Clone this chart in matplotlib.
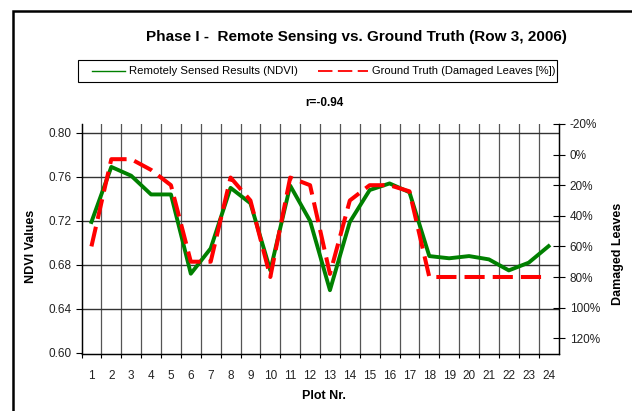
import matplotlib.pyplot as plt
from matplotlib.lines import Line2D
from matplotlib.patches import Rectangle
from matplotlib.ticker import FuncFormatter

plt.rcParams['font.family'] = ['Liberation Sans', 'DejaVu Sans']

plots = list(range(1, 25))
ndvi = [0.719, 0.769, 0.761, 0.744, 0.744, 0.672, 0.695, 0.750, 0.736, 0.675,
        0.752, 0.720, 0.657, 0.719, 0.748, 0.754, 0.746, 0.688, 0.686, 0.688,
        0.685, 0.675, 0.682, 0.697]
damaged = [60, 3, 3, 10, 20, 70, 70, 15, 30, 80,
           15, 20, 78, 30, 20, 20, 24, 80, 80, 80,
           80, 80, 80, 80]

W, H = 632, 411
fig = plt.figure(figsize=(W / 100, H / 100), dpi=100)
ax = fig.add_axes([81.5 / W, 1 - 353.5 / H, 477 / W, 229.5 / H])
ax2 = ax.twinx()

green = '#008000'
red = '#ff0000'

# gridlines between the plots
for b in range(1, 24):
    ax.axvline(b + 0.5, color='#555555', lw=0.9, zorder=1)
for v in [0.64, 0.68, 0.72, 0.76, 0.80]:
    ax.axhline(v, color='#333333', lw=1.0, zorder=1)

ax.plot(plots, ndvi, color=green, lw=2.8, zorder=3)
ax2.plot(plots, damaged, color=red, lw=2.9, dashes=(5, 2), zorder=4)

ax.set_xlim(0.5, 24.5)
ax.set_ylim(0.5995, 0.808)
ax.set_yticks([0.60, 0.64, 0.68, 0.72, 0.76, 0.80])
ax.yaxis.set_major_formatter(FuncFormatter(lambda v, p: f'{v:.2f}'))
ax.set_xticks(plots)
ax.set_xticks([b + 0.5 for b in range(0, 24)], minor=True)
ax.tick_params(axis='x', which='major', length=0, pad=12, labelsize=8.5, labelcolor='#222222')
ax.tick_params(axis='x', which='minor', length=3, direction='out', width=0.8)
ax.tick_params(axis='y', length=4, direction='out', width=0.8, pad=3,
               labelsize=8.5, labelcolor='#222222')

ax2.set_ylim(130, -20)
ax2.set_yticks([-20, 0, 20, 40, 60, 80, 100, 120])
ax2.yaxis.set_major_formatter(FuncFormatter(lambda v, p: f'{v:.0f}%'))
ax2.tick_params(axis='y', length=8, direction='inout', width=0.8, pad=4,
                labelsize=8.5, labelcolor='#222222')

for a in (ax, ax2):
    a.spines['top'].set_visible(False)
    for s in ('left', 'right', 'bottom'):
        a.spines[s].set_linewidth(0.9)

ax.set_xlabel('Plot Nr.', fontsize=9, fontweight='bold')
ax.xaxis.set_label_coords(0.508, -0.159)
ax.set_ylabel('NDVI Values', fontsize=9, fontweight='bold')
ax.yaxis.set_label_coords(-0.094, 0.465)
ax2.set_ylabel('Damaged Leaves', fontsize=9, fontweight='bold')
ax2.yaxis.set_label_coords(1.112, 0.434)

fig.text(356 / W, 1 - 37 / H, 'Phase I -  Remote Sensing vs. Ground Truth (Row 3, 2006)',
         ha='center', va='center', fontsize=11, fontweight='bold')
fig.text(324 / W, 1 - 103 / H, 'r=-0.94', ha='center', va='center',
         fontsize=8.5, fontweight='bold')

# legend box
fig.add_artist(Rectangle((78 / W, 1 - 82 / H), 479 / W, 22 / H, transform=fig.transFigure,
                         fill=False, edgecolor='black', lw=0.8))
ly = 1 - 71 / H
fig.add_artist(Line2D([92 / W, 125 / W], [ly, ly], transform=fig.transFigure,
                      color=green, lw=1.0))
fig.text(129 / W, ly, 'Remotely Sensed Results (NDVI)', ha='left', va='center', fontsize=8.2)
fig.add_artist(Line2D([318 / W, 368 / W], [ly, ly], transform=fig.transFigure,
                      color=red, lw=1.3, dashes=(8, 3)))
fig.text(372 / W, ly, 'Ground Truth (Damaged Leaves [%])', ha='left', va='center', fontsize=8)

# outer border of the chart
fig.add_artist(Rectangle((13 / W, -0.1), 1.2, 1.1 - 11 / H, transform=fig.transFigure,
                         fill=False, edgecolor='black', lw=1.8))

fig.savefig('out.png', dpi=100)
